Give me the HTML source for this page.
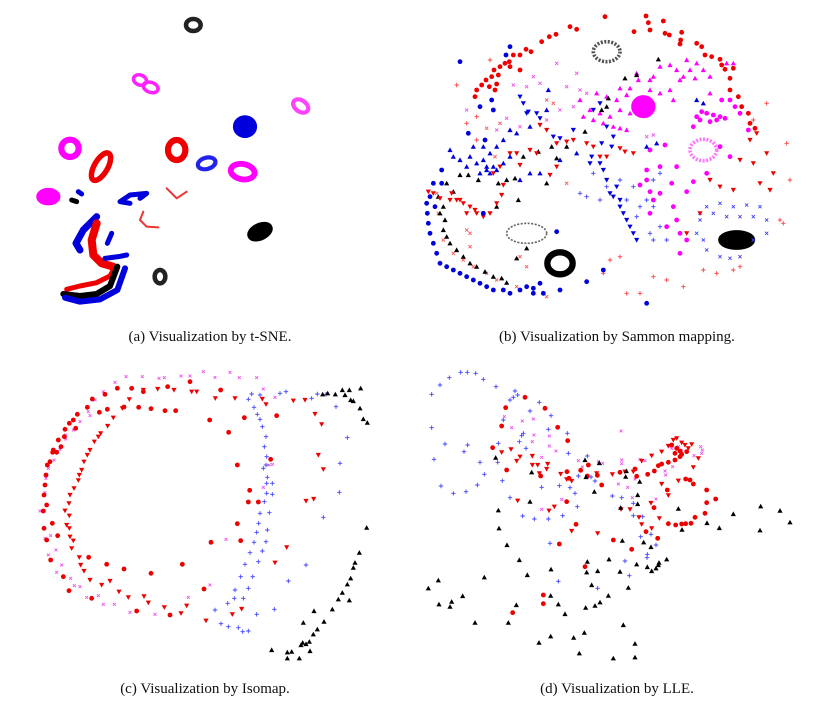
<!DOCTYPE html>
<html><head><meta charset="utf-8">
<style>
html,body{margin:0;padding:0;background:#fff;width:840px;height:716px;overflow:hidden}
svg{display:block}
.cap{font-family:"Liberation Serif",serif;font-size:15px;fill:#111}
</style></head>
<body>
<svg id="fig" width="840" height="716" viewBox="0 0 840 716" xmlns="http://www.w3.org/2000/svg">
<text class="cap" x="210" y="341" text-anchor="middle">(a)  Visualization by t-SNE.</text>
<text class="cap" x="617" y="341" text-anchor="middle">(b)  Visualization by Sammon mapping.</text>
<text class="cap" x="205" y="693" text-anchor="middle">(c)  Visualization by Isomap.</text>
<text class="cap" x="617" y="693" text-anchor="middle">(d)  Visualization by LLE.</text>
</svg>
<script>
// ---------- Panel (a) t-SNE cluster data (data units) ----------
// cx, cy, rx, ry, rotation, color, thickness, filled
const tsneRings = [
 [490,75,22,18,0,'#222',9,0],[330,240,20,15,20,'#f2f',6,0],[362,262,23,15,20,'#f2f',6,0],
 [812,318,25,17,35,'#f4f',8,0],[120,445,26,26,0,'#f0f',14,0],[213,500,20,46,30,'#e00',12,0],
 [440,450,26,30,0,'#e00',14,0],[530,490,27,17,-15,'#22e',8,0],[638,515,36,23,10,'#f0f',13,0],
 [55,590,28,18,0,'#f0f',12,1],[645,380,28,26,0,'#00d',12,1],[690,695,32,18,-25,'#000',12,1],
 [390,830,16,20,0,'#222',9,0]
];
const tsnePaths = [
 [['#00d',7],[[200,650],[160,690],[138,730],[150,750]]],
 [['#e00',8],[[200,670],[185,720],[190,765],[215,790],[250,800]]],
 [['#00d',5],[[225,775],[265,770],[290,765]]],
 [['#00d',5],[[232,730],[245,700]]],
 [['#00d',5],[[300,610],[270,605],[300,585],[350,580],[330,595]]],
 [['#e33',2],[[410,565],[440,595],[470,575]]],
 [['#e33',2],[[340,635],[330,660],[350,680],[385,682]]],
 [['#e00',5],[[110,868],[150,858],[200,848],[240,828],[255,800]]],
 [['#000',6],[[100,882],[150,888],[200,882],[240,858],[262,800]]],
 [['#00d',6],[[105,893],[150,905],[210,898],[262,870],[285,805]]],
 [['#000',5],[[125,600],[140,605]]],
 [['#00d',5],[[145,575],[155,582]]]
];
// ---------- Panel (b) Sammon series ----------
const sRedCirc=[[555,50],[678,48],[685,68],[730,63],[642,95],[690,90],[735,100],[748,105],[785,97],[782,120],[780,132],[830,130],[845,140],[855,165],[875,170],[900,178],[905,195],[915,208],[940,205],[930,235],[930,270],[955,290],[965,320],[985,340],[990,370],[1005,385],[450,80],[470,88],[408,103],[388,110],[365,125],[333,155],[318,148],[300,165],[280,165],[268,185],[255,190],[240,200],[222,210],[215,230],[198,240],[185,255],[170,270],[165,290],[230,252],[235,225],[270,200],[300,210],[225,270],[208,260]];
const sMagCirc=[[830,350],[845,335],[860,340],[880,345],[900,350],[915,355],[870,365],[890,360],[840,360],[820,380],[905,300],[930,300],[945,320],[960,340],[735,435],[690,450],[680,510],[720,500],[770,500],[680,540],[690,575],[720,580],[755,550],[800,575],[820,545],[860,520],[930,470],[985,390],[900,440],[770,660],[780,700],[800,720],[780,760],[740,680],[700,600],[660,555],[760,620],[690,640]];
const sMagTri=[[600,265],[630,265],[655,240],[690,240],[720,200],[750,195],[770,210],[800,180],[830,190],[850,210],[870,230],[825,235],[780,240],[750,270],[720,280],[690,270],[620,285],[590,300],[560,290],[530,280],[510,330],[490,350],[520,360],[550,370],[580,380],[600,385],[620,390],[570,350],[540,340],[480,300],[650,220],[700,230],[760,300],[790,230],[810,210],[920,190],[940,190],[870,280],[600,330],[630,340]];
const sBlackTri=[[715,178],[650,225],[615,235],[565,295],[560,320],[545,330],[495,395],[440,440],[410,475],[395,440],[355,455],[310,470],[285,535],[235,550],[175,540],[145,525],[120,525],[80,550],[100,575],[55,590],[70,620],[60,640],[75,660],[70,690],[80,710],[90,730],[110,750],[130,770],[150,790],[170,800],[195,815],[220,830],[245,835],[260,848],[290,775],[320,745],[295,600],[230,620],[380,550],[260,540]];
const sRedDown=[[25,575],[40,580],[60,595],[95,580],[110,600],[130,610],[150,620],[170,640],[190,650],[210,640],[230,610],[245,585],[250,555],[165,630],[140,640],[120,600],[90,600],[270,460],[290,460],[330,450],[350,460],[410,430],[440,425],[460,420],[500,430],[520,440],[540,470],[560,470],[600,445],[640,460],[390,525],[410,500],[360,375],[380,390],[300,495],[220,520],[615,455],[240,500],[960,480],[1000,490],[1040,460],[1060,520],[1020,550],[1050,570],[900,560],[940,570],[870,540],[990,420],[1010,400],[840,640],[800,700]];
const sBlueDown=[[300,290],[310,310],[325,335],[350,340],[320,340],[360,355],[400,410],[420,415],[460,390],[520,330],[540,310],[560,380],[580,410],[545,430],[575,440],[510,490],[540,490],[550,510],[560,540],[570,580],[580,590],[600,620],[610,640],[620,660],[630,680],[640,700],[650,720],[600,600],[590,560],[515,470]];
const sBlueUp=[[385,270],[380,330],[330,380],[290,400],[270,390],[250,420],[230,440],[210,460],[190,480],[170,490],[150,470],[120,480],[100,470],[90,450],[200,510],[180,520],[210,520],[230,510],[250,490],[330,520],[360,520],[300,540],[270,470],[190,440],[160,440],[140,500],[220,500],[470,460],[420,480],[680,440],[710,430],[830,300],[850,310],[200,500]];
const sBlueCirc=[[120,185],[270,140],[258,165],[180,320],[220,330],[215,300],[145,400],[195,420],[65,510],[40,550],[65,550],[30,590],[20,610],[22,640],[25,670],[30,700],[40,730],[50,760],[60,790],[80,800],[100,810],[120,820],[140,830],[160,840],[180,850],[200,860],[220,870],[250,870],[270,880],[300,870],[320,860],[340,865],[360,850],[340,880],[370,880],[420,870],[500,845],[550,810],[680,910],[410,695],[190,640],[45,620]];
const sBluePlus=[[520,520],[560,560],[600,540],[640,560],[500,590],[540,600],[620,600],[660,620],[700,620],[720,680],[700,720],[740,720],[700,540],[720,520],[680,600],[650,650],[480,580],[690,700]];
const sBlueX=[[840,640],[860,620],[900,610],[940,620],[980,615],[1020,620],[1040,660],[1040,700],[1000,720],[960,770],[900,770],[860,750],[830,700],[840,660],[880,640],[920,650],[960,650],[1000,650],[850,720],[930,775]];
const sRedPlus=[[110,255],[140,370],[170,420],[600,770],[550,820],[620,880],[700,830],[740,840],[790,860],[850,810],[890,820],[940,810],[960,800],[1080,660],[1090,670],[1100,430],[1110,540],[1040,310],[1000,360],[210,180],[170,350],[660,880],[570,780]];
const sRedX=[[55,640],[70,720],[100,760],[130,780],[160,800],[150,700],[150,740],[140,690],[200,820],[230,840],[290,860],[380,890],[320,800],[300,770],[400,310],[380,300],[240,370],[225,470],[200,385],[50,580],[440,550]];
const sMagX=[[140,330],[280,255],[340,230],[410,190],[440,260],[480,270],[460,320],[500,280],[420,330],[380,360],[260,355],[300,380],[360,250],[470,220],[230,390],[680,410],[700,405],[320,260]];
// cx, cy, rx, ry, color, thickness, filled
const sBlobs=[[420,790,38,33,'#000',16,0],[950,720,48,22,'#000',12,1],[560,155,40,30,'#555',8,0],[850,450,40,32,'#f7f',8,0],[670,320,30,28,'#f0f',10,1],[320,700,60,30,'#666',2,0]];
// ---------- Panel (c) Isomap series ----------
const iRedCirc=[[262,70],[305,70],[340,80],[413,65],[480,50],[572,75],[225,88],[187,102],[172,127],[142,148],[130,165],[118,175],[105,193],[137,190],[103,215],[85,225],[93,245],[70,255],[80,262],[68,262],[60,290],[52,300],[48,330],[45,360],[42,390],[50,420],[40,438],[67,475],[42,490],[50,525],[83,512],[62,585],[100,635],[117,677],[185,700],[320,738],[420,750],[522,672],[457,598],[363,625],[282,612],[230,598],[176,577],[208,142],[232,133],[282,126],[326,127],[363,131],[405,137],[437,137],[539,165],[596,202],[643,158],[740,152],[622,300],[659,376],[655,411],[685,411],[622,476],[632,527],[543,532],[722,283]];
const iRedDown=[[340,75],[383,72],[432,75],[485,80],[500,80],[556,100],[615,100],[697,102],[708,118],[790,107],[825,105],[855,147],[875,178],[865,270],[880,313],[828,408],[851,402],[770,547],[735,593],[635,732],[607,748],[528,767],[470,722],[453,745],[403,727],[355,713],[342,694],[295,697],[267,680],[215,660],[240,648],[180,645],[162,618],[152,600],[148,577],[125,550],[130,527],[120,515],[118,490],[110,480],[118,452],[105,437],[117,415],[120,390],[132,370],[145,346],[148,330],[155,315],[162,290],[172,270],[180,255],[193,230],[205,215],[212,205],[233,183],[250,158],[277,130],[298,103]];
const iMagX=[[288,35],[337,35],[387,40],[403,38],[453,33],[480,33],[520,20],[555,37],[600,22],[628,38],[680,38],[255,52],[220,80],[195,105],[175,140],[180,152],[150,170],[130,195],[107,210],[107,222],[90,253],[72,285],[55,310],[48,340],[45,383],[30,438],[45,520],[62,512],[78,555],[55,570],[95,600],[80,622],[122,640],[133,662],[150,665],[170,697],[205,692],[220,718],[253,718],[300,742],[375,748],[475,697],[540,660],[588,523],[700,72],[735,97],[727,298],[700,367],[717,300]];
const iBluePlus=[[665,87],[690,90],[750,85],[768,80],[845,100],[862,87],[888,88],[918,125],[952,218],[930,295],[928,382],[880,457],[828,600],[775,648],[733,733],[680,748],[655,798],[638,800],[625,788],[595,785],[573,776],[555,735],[593,715],[613,700],[640,700],[655,670],[615,675],[668,635],[632,635],[645,598],[685,590],[660,563],[697,558],[708,530],[672,532],[680,502],[712,495],[686,475],[690,445],[718,443],[703,410],[727,388],[710,385],[727,355],[710,355],[712,337],[700,310],[708,300],[710,275],[703,245],[708,215],[697,185],[690,163],[682,148],[672,127],[655,103]];
const iBlackTri=[[878,88],[893,85],[916,88],[937,75],[958,75],[992,70],[945,90],[962,105],[970,108],[990,130],[1000,162],[1012,173],[1010,488],[988,563],[975,593],[970,608],[962,640],[952,658],[937,683],[925,703],[958,706],[907,733],[882,770],[862,793],[850,808],[852,738],[820,773],[838,830],[828,837],[813,840],[818,833],[840,858],[808,880],[785,860],[772,862],[772,880],[725,855]];
// ---------- Panel (d) LLE series ----------
const lBluePlus=[[50,88],[75,60],[103,38],[137,22],[157,22],[182,25],[205,43],[243,65],[300,78],[308,90],[285,105],[295,97],[265,165],[373,112],[345,138],[408,152],[400,193],[457,205],[460,265],[517,273],[320,212],[325,205],[313,230],[333,250],[250,235],[248,292],[262,347],[208,328],[195,292],[147,260],[158,240],[90,237],[57,283],[50,188],[78,363],[115,385],[153,380],[187,360],[285,398],[323,453],[358,462],[400,462],[443,452],[433,362],[465,368],[480,385],[487,425],[490,333],[528,336],[540,348],[592,393],[620,398],[655,415],[655,452],[683,455],[677,515],[708,508],[723,540],[697,568],[696,578],[630,588],[643,632],[548,670],[430,649],[405,535],[380,367]];
const lMagX=[[268,155],[290,188],[322,168],[355,162],[357,210],[352,230],[403,213],[403,243],[423,258],[380,277],[490,287],[550,290],[563,295],[620,285],[620,296],[675,283],[690,287],[618,198],[610,357],[638,367],[660,342],[750,318],[752,330],[773,305],[770,250],[790,245],[800,258],[857,245],[862,255],[860,265],[837,272],[440,403],[380,433],[502,306],[723,402],[652,398]];
const lRedCirc=[[330,97],[272,128],[390,130],[260,183],[428,187],[458,227],[233,248],[275,315],[377,333],[456,320],[462,340],[497,316],[520,300],[517,333],[547,331],[560,360],[615,322],[660,312],[665,334],[698,328],[718,318],[730,302],[740,297],[760,292],[780,285],[795,275],[800,268],[815,260],[780,265],[785,250],[770,240],[795,258],[812,342],[825,345],[835,357],[757,375],[875,375],[875,413],[902,402],[870,445],[840,457],[828,475],[812,476],[800,477],[782,480],[760,476],[717,428],[693,500],[728,520],[650,553],[595,525],[483,478],[433,537],[455,410],[510,605],[385,690],[385,716],[293,743]];
const lRedDown=[[260,262],[288,253],[315,275],[305,288],[352,273],[352,300],[368,300],[398,297],[395,312],[437,327],[455,343],[470,348],[545,325],[592,328],[630,320],[655,320],[710,272],[680,288],[740,260],[760,243],[785,220],[800,233],[810,240],[830,238],[850,280],[835,307],[790,347],[740,357],[760,391],[708,414],[618,433],[645,433],[672,457],[680,478],[710,490],[733,460],[548,505],[470,498],[418,425],[402,437],[308,407],[373,325],[775,225],[820,250]];
const lBlackTri=[[242,278],[350,322],[345,410],[250,436],[252,490],[276,540],[313,585],[337,630],[208,637],[70,646],[40,670],[143,693],[110,710],[105,725],[72,718],[180,773],[280,773],[304,720],[408,613],[407,692],[430,718],[450,747],[372,833],[407,814],[476,818],[508,803],[493,865],[595,880],[660,877],[660,836],[625,780],[640,668],[580,692],[555,712],[540,722],[512,728],[530,660],[515,622],[548,618],[517,590],[582,583],[615,620],[665,598],[697,606],[710,618],[723,610],[730,600],[732,593],[755,583],[708,546],[686,532],[622,527],[668,417],[668,390],[617,428],[674,350],[632,335],[634,318],[538,380],[553,294],[510,285],[513,336],[790,431],[801,494],[876,474],[913,489],[955,447],[1037,424],[1095,437],[1125,472],[1035,496]];

const NS='http://www.w3.org/2000/svg';
const svg=document.getElementById('fig');
function axis(ox,oy){return {x:v=>ox+v/3,y:v=>oy+v/3};}
const axA=axis(30,0), axB=axis(420,0), axC=axis(30,365), axD=axis(415,365);
function mk(tag,attrs,parent){const e=document.createElementNS(NS,tag);for(const k in attrs)e.setAttribute(k,attrs[k]);(parent||svg).appendChild(e);return e;}
function group(name){const g=mk('g',{});


return g;}
function marker(g,shape,x,y,color,s){
 let e;
 if(shape==='circle'){e=mk('circle',{cx:x,cy:y,r:s,fill:color},g);}
 else if(shape==='up'){e=mk('polygon',{points:`${x},${y-s} ${x-s},${y+s*0.8} ${x+s},${y+s*0.8}`,fill:color},g);}
 else if(shape==='down'){e=mk('polygon',{points:`${x},${y+s} ${x-s},${y-s*0.8} ${x+s},${y-s*0.8}`,fill:color},g);}
 else if(shape==='plus'){e=mk('path',{d:`M${x-s},${y}H${x+s}M${x},${y-s}V${y+s}`,stroke:color,'stroke-width':0.9,fill:'none'},g);}
 else {e=mk('path',{d:`M${x-s*.8},${y-s*.8}L${x+s*.8},${y+s*.8}M${x-s*.8},${y+s*.8}L${x+s*.8},${y-s*.8}`,stroke:color,'stroke-width':0.9,fill:'none'},g);}
 
 
}
function series(name,ax,data,shape,color,s){const g=group(name);data.forEach(p=>marker(g,shape,ax.x(p[0]),ax.y(p[1]),color,s));}

// Panel a
const ga=group('tsne-plot');
tsneRings.forEach(r=>{const e=mk('ellipse',{cx:axA.x(r[0]),cy:axA.y(r[1]),rx:r[2]/3,ry:r[3]/3,fill:r[7]?r[5]:'none',stroke:r[5],'stroke-width':r[6]/3+1.5,transform:`rotate(${r[4]} ${axA.x(r[0])} ${axA.y(r[1])})`},ga);

});
tsnePaths.forEach(p=>{const d=p[1].map((q,i)=>(i?'L':'M')+axA.x(q[0])+','+axA.y(q[1])).join('');const e=mk('path',{d:d,fill:'none',stroke:p[0][0],'stroke-width':p[0][1],'stroke-linecap':'round','stroke-linejoin':'round'},ga);

});

// Panel b
const gb=group('sammon-blobs');
sBlobs.forEach(b=>{const e=mk('ellipse',{cx:axB.x(b[0]),cy:axB.y(b[1]),rx:b[2]/3,ry:b[3]/3,fill:b[6]?b[4]:'none',stroke:b[4],'stroke-width':b[5]/3+1,'stroke-dasharray':(b[4]==='#555'||b[4]==='#f7f'||b[4]==='#666')?'2 1.5':'none'},gb);

});
series('sammon-red-plus',axB,sRedPlus,'plus','#f44',2.2);
series('sammon-red-x',axB,sRedX,'x','#f55',2);
series('sammon-magenta-x',axB,sMagX,'x','#e5e',2);
series('sammon-blue-plus',axB,sBluePlus,'plus','#44f',2.2);
series('sammon-blue-x',axB,sBlueX,'x','#44f',2);
series('sammon-red-circles',axB,sRedCirc,'circle','#e00',2.4);
series('sammon-magenta-circles',axB,sMagCirc,'circle','#f0f',2.4);
series('sammon-magenta-triangles',axB,sMagTri,'up','#f0f',2.6);
series('sammon-black-triangles',axB,sBlackTri,'up','#000',2.6);
series('sammon-red-down-triangles',axB,sRedDown,'down','#e00',2.6);
series('sammon-blue-down-triangles',axB,sBlueDown,'down','#00d',2.6);
series('sammon-blue-triangles',axB,sBlueUp,'up','#00d',2.6);
series('sammon-blue-circles',axB,sBlueCirc,'circle','#00d',2.4);

// Panel c
series('isomap-magenta-x',axC,iMagX,'x','#e5e',1.8);
series('isomap-blue-plus',axC,iBluePlus,'plus','#44f',2.2);
series('isomap-red-circles',axC,iRedCirc,'circle','#e00',2.4);
series('isomap-red-down-triangles',axC,iRedDown,'down','#e00',2.6);
series('isomap-black-triangles',axC,iBlackTri,'up','#000',2.6);

// Panel d
series('lle-blue-plus',axD,lBluePlus,'plus','#44f',2.2);
series('lle-magenta-x',axD,lMagX,'x','#e5e',1.8);
series('lle-red-circles',axD,lRedCirc,'circle','#e00',2.4);
series('lle-red-down-triangles',axD,lRedDown,'down','#e00',2.6);
series('lle-black-triangles',axD,lBlackTri,'up','#000',2.6);
</script>
</body></html>
